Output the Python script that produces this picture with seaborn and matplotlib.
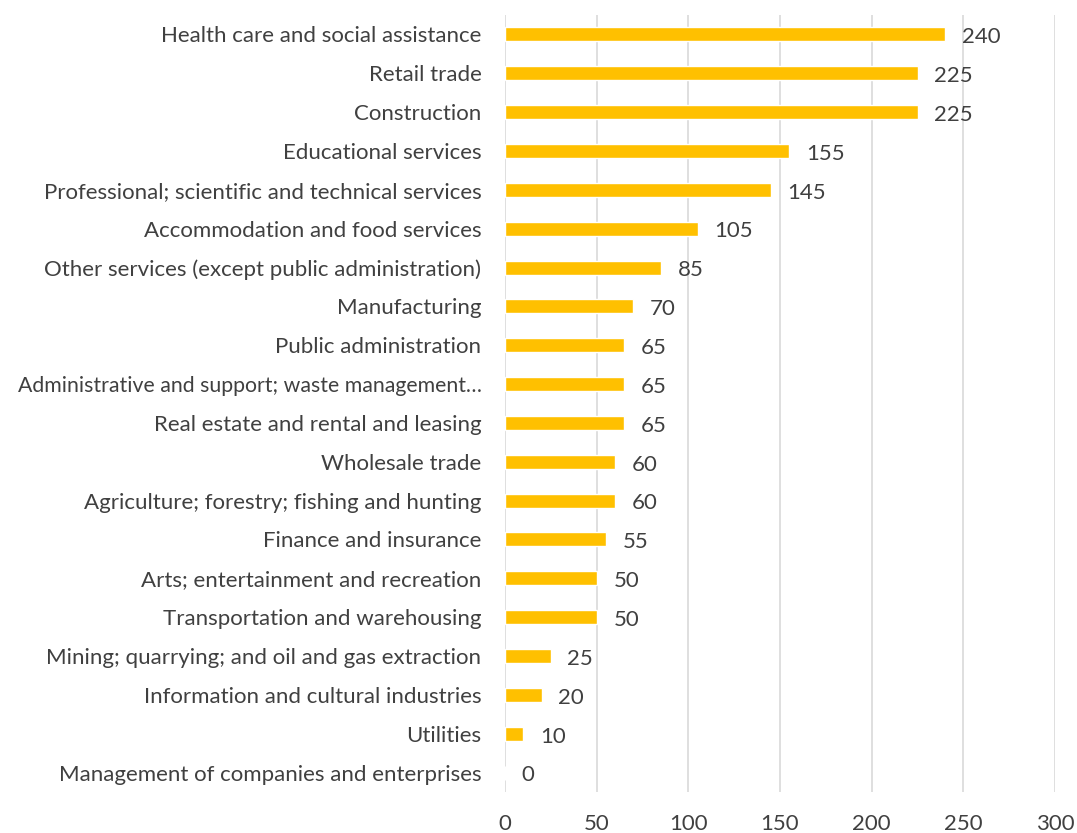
import matplotlib
matplotlib.use("Agg")
import matplotlib.pyplot as plt
import seaborn as sns
import pandas as pd

industries = [
    "Health care and social assistance",
    "Retail trade",
    "Construction",
    "Educational services",
    "Professional; scientific and technical services",
    "Accommodation and food services",
    "Other services (except public administration)",
    "Manufacturing",
    "Public administration",
    "Administrative and support; waste management\u2026",
    "Real estate and rental and leasing",
    "Wholesale trade",
    "Agriculture; forestry; fishing and hunting",
    "Finance and insurance",
    "Arts; entertainment and recreation",
    "Transportation and warehousing",
    "Mining; quarrying; and oil and gas extraction",
    "Information and cultural industries",
    "Utilities",
    "Management of companies and enterprises",
]
counts = [240, 225, 225, 155, 145, 105, 85, 70, 65, 65, 65, 60, 60, 55, 50, 50, 25, 20, 10, 0]
x_ticks = [0, 50, 100, 150, 200, 250, 300]

df = pd.DataFrame({"Industry": industries, "Count": counts})

sns.set_style("white")
plt.rcParams["font.family"] = ["Lato", "DejaVu Sans"]
text_color = "#404040"
fs = 16

fig = plt.figure(figsize=(10.77, 8.33), dpi=100)
ax = fig.add_axes([505 / 1077, 1 - 792 / 833, 550 / 1077, 777 / 833])

sns.barplot(data=df, x="Count", y="Industry", color="#FFC000", width=0.36,
            saturation=1, ax=ax, zorder=3)

ax.set_xlim(0, 300)
ax.set_ylim(len(industries) - 0.5, -0.5)
ax.set_xticks(x_ticks)
ax.xaxis.grid(True, color="#d9d9d9", linewidth=1.2, zorder=0)
ax.set_axisbelow(True)
for s in ax.spines.values():
    s.set_visible(False)

ax.tick_params(axis="x", length=0, pad=16, labelsize=fs, labelcolor=text_color)
ax.tick_params(axis="y", length=0, pad=17, labelsize=fs, labelcolor=text_color)
ax.set_xlabel("")
ax.set_ylabel("")

# the long truncated label needs a touch less size to fit the left edge
for lab in ax.get_yticklabels():
    if lab.get_text().startswith("Administrative"):
        lab.set_fontsize(15.3)

for i, v in enumerate(counts):
    ax.annotate(str(v), (v, i), xytext=(12, -2), textcoords="offset points",
                ha="left", va="center", fontsize=fs, color=text_color)

fig.savefig("out.png", dpi=100)
